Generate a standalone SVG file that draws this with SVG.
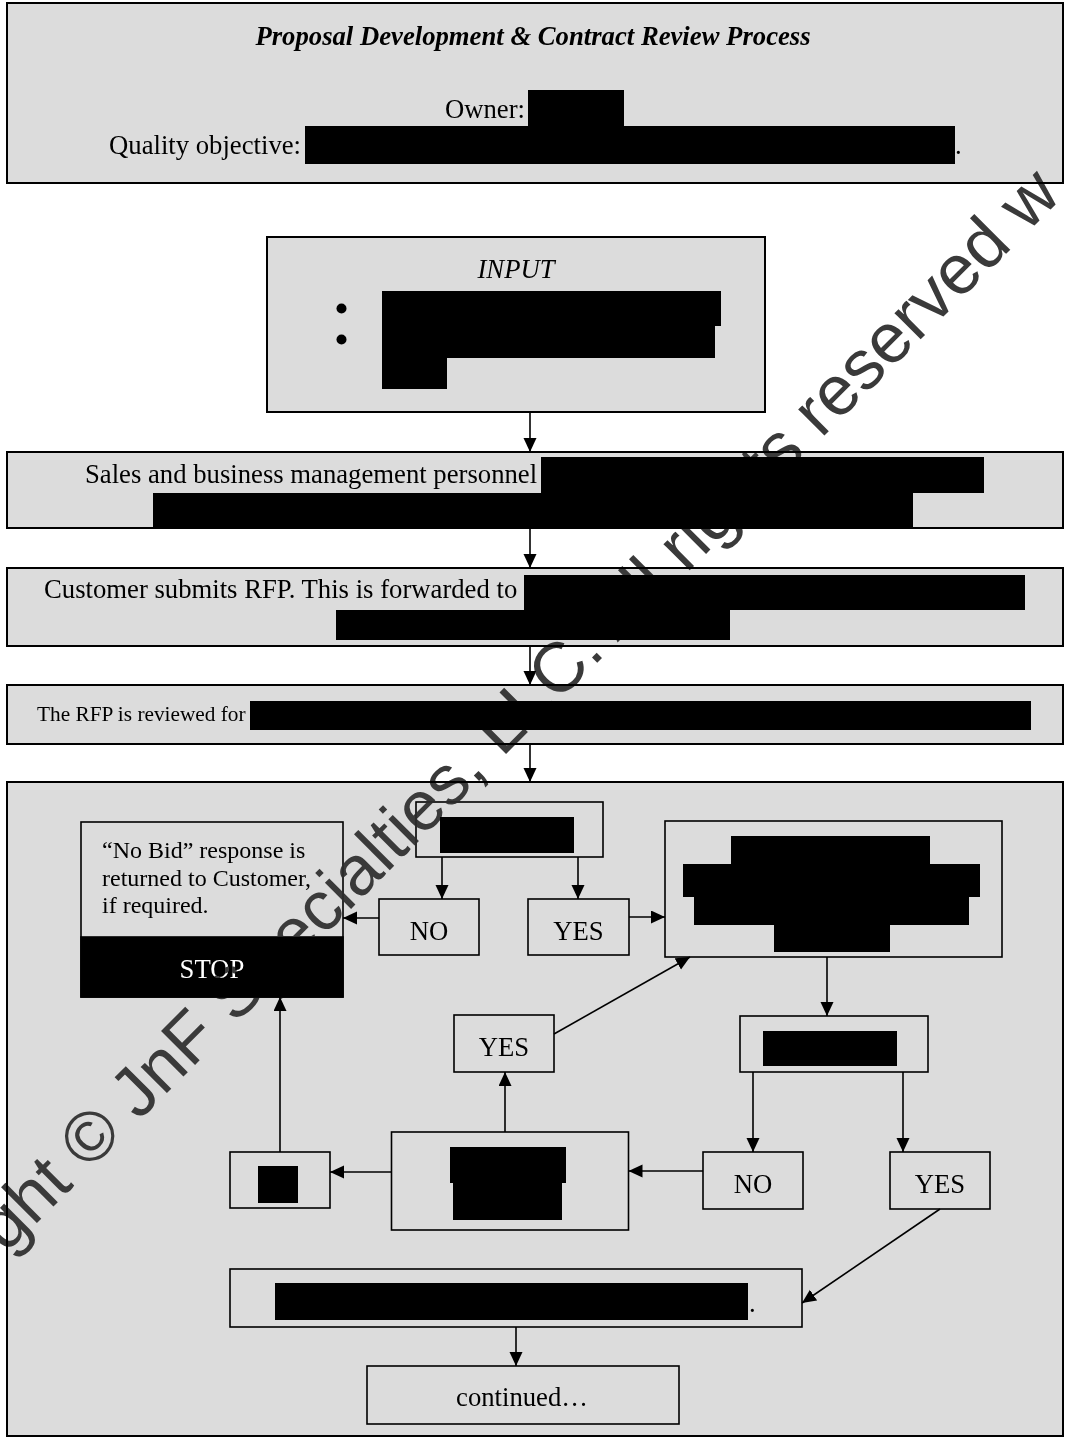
<svg xmlns="http://www.w3.org/2000/svg" width="1065" height="1441" viewBox="0 0 1065 1441">
<defs>
<style>
.box{fill:#dcdcdc;stroke:#000;stroke-width:2}
.ibox{fill:#dcdcdc;stroke:#000;stroke-width:1.6}
.red{fill:#000}
.t{font-family:"Liberation Serif","Times New Roman",serif;font-size:26.7px;fill:#000}
.s24{font-size:24px}
.s21{font-size:21.3px}
.mid{text-anchor:middle}
.c{stroke:#000;stroke-width:1.6;fill:none;marker-end:url(#ah)}
.wm{font-family:"Liberation Sans",Arial,sans-serif;font-size:70px;fill:#3a3a3a;mix-blend-mode:darken}
</style>
<marker id="ah" markerUnits="userSpaceOnUse" markerWidth="15" markerHeight="14" refX="14" refY="6.5" orient="auto">
<path d="M0,0 L14,6.5 L0,13 z" fill="#000"/>
</marker>
</defs>
<rect x="0" y="0" width="1065" height="1441" fill="#fff"/>

<g id="title">
<rect class="box" x="7" y="3" width="1056" height="180"/>
<text class="t mid" x="533" y="45" font-weight="bold" font-style="italic">Proposal Development &amp; Contract Review Process</text>
<text class="t" x="525" y="118" text-anchor="end">Owner:</text>
<rect class="red" x="528" y="90" width="96" height="37"/>
<text class="t" x="301" y="154" text-anchor="end">Quality objective:</text>
<rect class="red" x="305" y="126" width="650" height="38"/>
<text class="t" x="955" y="154">.</text>
</g>

<g id="input">
<rect class="box" x="267" y="237" width="498" height="175"/>
<text class="t mid" x="516" y="278" font-style="italic">INPUT</text>
<circle cx="341.5" cy="308.5" r="5"/>
<circle cx="341.5" cy="339.5" r="5"/>
<rect class="red" x="382" y="291" width="339" height="35"/>
<rect class="red" x="382" y="326" width="333" height="32"/>
<rect class="red" x="382" y="358" width="65" height="31"/>
</g>

<g id="sales">
<rect class="box" x="7" y="452" width="1056" height="76"/>
<text class="t" x="85" y="483">Sales and business management personnel</text>
<rect class="red" x="541" y="457" width="443" height="36"/>
<rect class="red" x="153" y="493" width="760" height="35"/>
</g>

<g id="customer">
<rect class="box" x="7" y="568" width="1056" height="78"/>
<text class="t" x="44" y="598">Customer submits RFP. This is forwarded to</text>
<rect class="red" x="524" y="575" width="501" height="35"/>
<rect class="red" x="336" y="610" width="394" height="30"/>
</g>

<g id="review">
<rect class="box" x="7" y="685" width="1056" height="59"/>
<text class="t s21" x="37" y="721">The RFP is reviewed for</text>
<rect class="red" x="250" y="701" width="781" height="29"/>
</g>

<g id="decision-area">
<rect class="box" x="7" y="782" width="1056" height="654"/>
</g>

<g id="decision1">
<rect class="ibox" x="416" y="802" width="187" height="55"/>
<rect class="red" x="440" y="817" width="134" height="36"/>
</g>

<g id="no1">
<rect class="ibox" x="379" y="899" width="100" height="56"/>
<text class="t mid" x="429" y="940">NO</text>
</g>

<g id="yes1">
<rect class="ibox" x="528" y="899" width="101" height="56"/>
<text class="t mid" x="578.5" y="940">YES</text>
</g>

<g id="stop">
<rect class="ibox" x="81" y="822" width="262" height="175"/>
<rect x="81" y="937" width="262" height="60" fill="#000" stroke="#000" stroke-width="1.6"/>
<text class="t s24" x="102" y="858">“No Bid” response is</text>
<text class="t s24" x="102" y="886">returned to Customer,</text>
<text class="t s24" x="102" y="913">if required.</text>
<text class="t mid" x="212" y="978" fill="#fff" style="fill:#fff">STOP</text>
</g>

<g id="prepare">
<rect class="ibox" x="665" y="821" width="337" height="136"/>
<rect class="red" x="731" y="836" width="199" height="28"/>
<rect class="red" x="683" y="864" width="297" height="33"/>
<rect class="red" x="694" y="897" width="275" height="28"/>
<rect class="red" x="774" y="925" width="116" height="27"/>
</g>

<g id="decision2">
<rect class="ibox" x="740" y="1016" width="188" height="56"/>
<rect class="red" x="763" y="1031" width="134" height="35"/>
</g>

<g id="yes-mid">
<rect class="ibox" x="454" y="1015" width="100" height="57"/>
<text class="t mid" x="504" y="1056">YES</text>
</g>

<g id="decision3">
<rect class="ibox" x="391.5" y="1132" width="237" height="98"/>
<rect class="red" x="450" y="1147" width="116" height="36"/>
<rect class="red" x="453" y="1183" width="109" height="37"/>
</g>

<g id="small">
<rect class="ibox" x="230" y="1152" width="100" height="56"/>
<rect class="red" x="258" y="1166" width="40" height="37"/>
</g>

<g id="no2">
<rect class="ibox" x="703" y="1152" width="100" height="57"/>
<text class="t mid" x="753" y="1193">NO</text>
</g>

<g id="yes2">
<rect class="ibox" x="890" y="1152" width="100" height="57"/>
<text class="t mid" x="940" y="1193">YES</text>
</g>

<g id="wide">
<rect class="ibox" x="230" y="1269" width="572" height="58"/>
<rect class="red" x="275" y="1283" width="473" height="37"/>
<text class="t" x="749" y="1312">.</text>
</g>

<g id="continued">
<rect class="ibox" x="367" y="1366" width="312" height="58"/>
<text class="t mid" x="522" y="1406">continued…</text>
</g>

<g id="connectors">
<line class="c" x1="530" y1="412" x2="530" y2="452"/>
<line class="c" x1="530" y1="528" x2="530" y2="568"/>
<line class="c" x1="530" y1="646" x2="530" y2="685"/>
<line class="c" x1="530" y1="744" x2="530" y2="782"/>
<line class="c" x1="442" y1="857" x2="442" y2="899"/>
<line class="c" x1="578" y1="857" x2="578" y2="899"/>
<line class="c" x1="379" y1="918" x2="343" y2="918"/>
<line class="c" x1="629" y1="917" x2="665" y2="917"/>
<line class="c" x1="827" y1="957" x2="827" y2="1016"/>
<line class="c" x1="753" y1="1072" x2="753" y2="1152"/>
<line class="c" x1="903" y1="1072" x2="903" y2="1152"/>
<line class="c" x1="703" y1="1171" x2="628.5" y2="1171"/>
<line class="c" x1="391.5" y1="1172" x2="330" y2="1172"/>
<line class="c" x1="280" y1="1152" x2="280" y2="997"/>
<line class="c" x1="505" y1="1132" x2="505" y2="1072"/>
<line class="c" x1="554" y1="1034" x2="690" y2="957"/>
<line class="c" x1="940" y1="1209" x2="802" y2="1303"/>
<line class="c" x1="516" y1="1327" x2="516" y2="1366"/>
</g>

<g id="watermark">
<text class="wm" transform="translate(6,1254) rotate(-45)">ght © JnF Specialties, LLC. All rights reserved w</text>
</g>
</svg>
